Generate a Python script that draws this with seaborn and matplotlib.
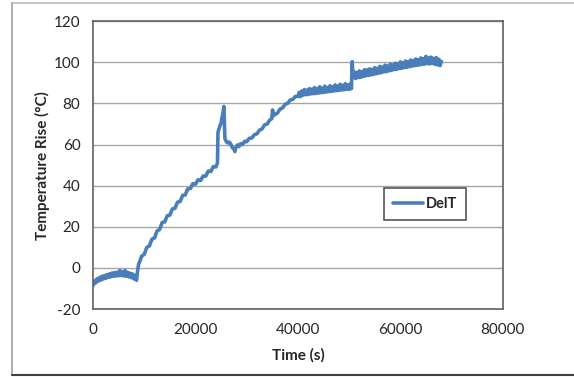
import matplotlib
matplotlib.use("Agg")
import matplotlib.pyplot as plt
import numpy as np
import pandas as pd
import seaborn as sns
from matplotlib.lines import Line2D

# Logged temperature rise (DelT) against elapsed time
time_s = [
    0, 250, 500, 750, 1000, 1250, 1500, 1750, 2000, 2250, 2500, 2750, 3000, 3250,
    3500, 3750, 4000, 4250, 4500, 4750, 5000, 5250, 5500, 5750, 6000, 6250, 6500,
    6750, 7000, 7250, 7500, 7750, 8000, 8250, 8500, 8700, 8900, 9200,
    9500, 10000, 10500, 11000, 11500, 12000, 12500, 13000, 13500, 14000, 14500,
    15000, 15500, 16000, 16500, 17000, 17500, 18000, 18500, 19000, 19500, 20000,
    20500, 21000, 21500, 22000, 22500, 23000, 23500, 24000, 24300, 24400, 24700,
    25000, 25300, 25550, 25750, 26000, 26300, 26600, 26900, 27200, 27500, 27700,
    27900, 28200, 28500, 28800, 29200, 29600, 30000, 30500, 31000, 31500, 32000,
    32500, 33000, 33500, 34000, 34500, 34900, 35050, 35200, 35500, 36000, 36500,
    37000, 37500, 38000, 38500, 39000, 39500, 40000,
    40250, 40500, 40750, 41000, 41250, 41500, 41750, 42000, 42250, 42500, 42750,
    43000, 43250, 43500, 43750, 44000, 44250, 44500, 44750, 45000, 45250, 45500,
    45750, 46000, 46250, 46500, 46750, 47000, 47250, 47500, 47750, 48000, 48250,
    48500, 48750, 49000, 49250, 49500, 49750, 50000, 50250, 50450, 50600, 50750,
    51000, 51250, 51500, 51750, 52000, 52250, 52500, 52750, 53000, 53250, 53500,
    53750, 54000, 54250, 54500, 54750, 55000, 55250, 55500, 55750, 56000, 56250,
    56500, 56750, 57000, 57250, 57500, 57750, 58000, 58250, 58500, 58750, 59000,
    59250, 59500, 59750, 60000, 60250, 60500, 60750, 61000, 61250, 61500, 61750,
    62000, 62250, 62500, 62750, 63000, 63250, 63500, 63750, 64000, 64250, 64500,
    64750, 65000, 65250, 65500, 65750, 66000, 66250, 66500, 66750, 67000, 67250,
    67500, 67750, 68000,
]
delt = [
    -8.6, -6.3, -7.3, -5.3, -6.5, -4.6, -5.9, -4.0, -5.4, -3.6, -5.0, -3.2, -4.6, -2.8,
    -4.3, -2.4, -4.1, -2.2, -3.9, -2.0, -3.8, -1.2, -3.7, -1.9, -3.9, -1.2, -4.0,
    -2.1, -4.3, -2.5, -4.7, -2.9, -5.3, -3.6, -6.0, -1.5, 1.8, 3.6,
    5.8, 6.6, 10.0, 10.7, 14.0, 14.6, 18.0, 18.7, 22.1, 22.4, 25.4,
    25.7, 28.7, 29.0, 32.0, 32.3, 35.3, 35.5, 38.5, 38.6, 41.0, 40.7,
    42.9, 42.5, 44.7, 44.6, 47.1, 46.9, 49.3, 49.1, 51.0, 66.0, 68.5,
    70.5, 74.5, 78.5, 63.0, 61.5, 60.8, 61.2, 60.2, 58.5, 57.8, 56.6,
    58.6, 59.8, 59.0, 60.4, 60.0, 61.6, 61.4, 63.0, 63.2, 64.8, 65.2,
    67.0, 67.6, 69.6, 70.0, 71.9, 72.6, 76.8, 74.0, 74.6, 75.3, 77.2,
    77.8, 79.6, 80.0, 81.7, 81.9, 83.4, 83.4,
    85.4, 83.3, 86.0, 84.0, 86.7, 84.2, 86.5, 84.3, 87.2, 84.6, 86.9,
    84.7, 87.7, 84.8, 87.1, 85.0, 88.1, 85.2, 87.4, 85.3, 88.4, 85.5,
    87.7, 85.7, 88.6, 85.8, 88.1, 86.0, 89.0, 86.2, 88.4, 86.3, 89.3,
    86.5, 88.8, 86.6, 89.6, 86.9, 89.0, 86.8, 89.5, 87.2, 100.3, 92.6,
    95.3, 92.1, 95.1, 92.5, 95.8, 92.7, 95.5, 93.0, 96.4, 93.4, 96.3,
    93.6, 96.8, 93.8, 96.5, 94.1, 97.4, 94.4, 97.1, 94.7, 98.0, 94.9,
    97.7, 95.3, 98.6, 95.4, 98.2, 95.8, 99.1, 96.0, 98.7, 96.4, 99.5,
    96.5, 99.3, 96.9, 100.2, 97.0, 99.8, 97.4, 100.6, 97.5, 100.3, 97.8,
    101.1, 98.1, 100.8, 98.3, 101.6, 98.5, 101.2, 98.7, 102.1, 98.9, 101.7,
    99.1, 102.9, 99.3, 102.1, 99.2, 102.5, 99.4, 101.9, 99.0, 102.3, 98.7,
    101.5, 98.4, 100.4,
]

x_ticks = [0, 20000, 40000, 60000, 80000]
y_ticks = [-20, 0, 20, 40, 60, 80, 100, 120]

sns.set_theme(style="white")
plt.rcParams["font.family"] = ["Lato", "DejaVu Sans"]
plt.rcParams["text.color"] = "#262626"
plt.rcParams["axes.labelcolor"] = "#262626"
plt.rcParams["xtick.color"] = "#262626"
plt.rcParams["ytick.color"] = "#262626"

fig = plt.figure(figsize=(5.74, 3.77), dpi=100)
fig.patch.set_facecolor("white")
ax = fig.add_axes([0.162, 0.180, 0.714, 0.764])

df = pd.DataFrame({"Time (s)": time_s, "DelT": delt})
sns.lineplot(data=df, x="Time (s)", y="DelT", ax=ax, color="#4a7ebb",
             linewidth=2.6, label="DelT", sort=False, estimator=None)

ax.set_xlim(x_ticks[0], x_ticks[-1])
ax.set_ylim(y_ticks[0], y_ticks[-1])
ax.set_xticks(x_ticks)
ax.set_yticks(y_ticks)
ax.set_xticklabels([str(v) for v in x_ticks], fontsize=11)
ax.set_yticklabels([str(v) for v in y_ticks], fontsize=11)

ax.yaxis.grid(True, color="#a6a6a6", linewidth=1.0)
ax.xaxis.grid(False)
ax.set_axisbelow(True)

ax.tick_params(axis="x", direction="in", length=5, width=1, color="#606060", pad=10)
ax.tick_params(axis="y", length=0, pad=9)

for side in ["left", "right", "top", "bottom"]:
    ax.spines[side].set_visible(True)
    ax.spines[side].set_color("#606060")
    ax.spines[side].set_linewidth(1.2)

ax.set_xlabel("Time (s)", fontsize=11, fontweight="bold", labelpad=8)
ax.set_ylabel("Temperature Rise (\u00b0C)", fontsize=11, fontweight="bold", labelpad=3)

leg = ax.legend(loc="upper left", bbox_to_anchor=(0.710, 0.420), borderaxespad=0,
                frameon=True, fancybox=False, edgecolor="#555555", framealpha=1,
                handlelength=2.1, handletextpad=0.2, fontsize=10.5,
                borderpad=0.6)
leg.get_frame().set_linewidth(1.2)
for t in leg.get_texts():
    t.set_fontweight("bold")

# Outer frame lines around the chart area
fig.add_artist(Line2D([0.021, 1.0], [0.992, 0.992], transform=fig.transFigure,
                      color="#c8c8c8", linewidth=1.5))
fig.add_artist(Line2D([0.021, 0.021], [0.004, 0.992], transform=fig.transFigure,
                      color="#a0a0a0", linewidth=1.2))
fig.add_artist(Line2D([0.021, 1.0], [0.004, 0.004], transform=fig.transFigure,
                      color="#404040", linewidth=1.5))

fig.savefig("out.png", dpi=100)
